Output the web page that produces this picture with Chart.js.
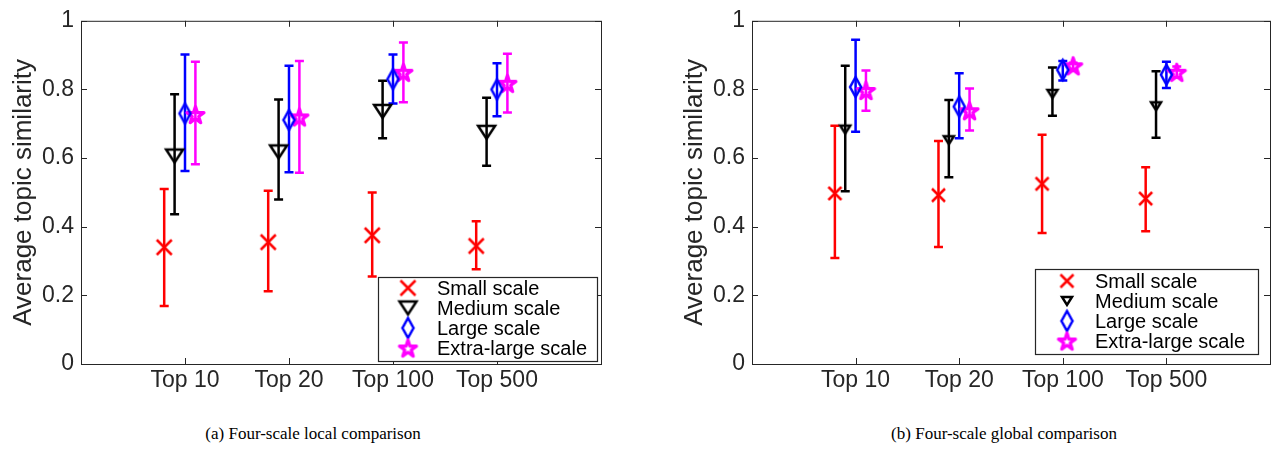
<!DOCTYPE html>
<html>
<head>
<meta charset="utf-8">
<script src="https://cdn.jsdelivr.net/npm/chart.js@4.4.0/dist/chart.umd.min.js"></script>
<style>
  body { margin: 0; background: #fff; width: 1277px; height: 449px; position: relative; overflow: hidden; }
  .wrap { position: absolute; top: 0; height: 400px; }
  #wrapA { left: 0; width: 640px; }
  #wrapB { left: 671px; width: 606px; }
  .cap { position: absolute; top: 424px; font-family: 'Liberation Serif', 'Times New Roman', serif; font-size: 17px; color: #000; transform: translateX(-50%); white-space: nowrap; }
</style>
</head>
<body>
<div class="wrap" id="wrapA"><canvas id="chartA" width="640" height="400"></canvas></div>
<div class="wrap" id="wrapB"><canvas id="chartB" width="606" height="400"></canvas></div>
<div class="cap" style="left:313px">(a) Four-scale local comparison</div>
<div class="cap" style="left:1004px">(b) Four-scale global comparison</div>

<script>
// data
const categories = ['Top 10', 'Top 20', 'Top 100', 'Top 500'];
const seriesNames = ['Small scale', 'Medium scale', 'Large scale', 'Extra-large scale'];
const yTicks = [0, 0.2, 0.4, 0.6, 0.8, 1];

// (a) local comparison: mean, lower end, upper end of the error bar
const localSmall = [0.34, 0.355, 0.375, 0.344];
const localSmallLo = [0.169, 0.212, 0.255, 0.276];
const localSmallHi = [0.51, 0.505, 0.5, 0.416];
const localMedium = [0.606, 0.618, 0.736, 0.675];
const localMediumLo = [0.436, 0.479, 0.658, 0.578];
const localMediumHi = [0.786, 0.771, 0.825, 0.776];
const localLarge = [0.73, 0.711, 0.83, 0.80];
const localLargeLo = [0.562, 0.559, 0.759, 0.722];
const localLargeHi = [0.902, 0.869, 0.902, 0.876];
const localXL = [0.727, 0.72, 0.85, 0.818];
const localXLLo = [0.582, 0.557, 0.763, 0.733];
const localXLHi = [0.881, 0.883, 0.937, 0.904];

// (b) global comparison
const globalSmall = [0.497, 0.492, 0.525, 0.482];
const globalSmallLo = [0.309, 0.341, 0.382, 0.387];
const globalSmallHi = [0.694, 0.65, 0.668, 0.573];
const globalMedium = [0.683, 0.652, 0.787, 0.751];
const globalMediumLo = [0.503, 0.544, 0.723, 0.659];
const globalMediumHi = [0.869, 0.769, 0.864, 0.853];
const globalLarge = [0.807, 0.75, 0.857, 0.843];
const globalLargeLo = [0.677, 0.658, 0.826, 0.804];
const globalLargeHi = [0.945, 0.847, 0.883, 0.881];
const globalXL = [0.797, 0.738, 0.869, 0.85];
const globalXLLo = [0.738, 0.68, 0.86, 0.835];
const globalXLHi = [0.855, 0.803, 0.878, 0.867];

// styling
const seriesColors = ['#ff0000', '#000000', '#0000ff', '#ff00ff'];
const seriesOffsets = [-0.2, -0.1, 0, 0.1];
const axisColor = '#262626';
Chart.defaults.font.family = "'Liberation Sans', Arial, Helvetica, sans-serif";

// marker glyphs (matlab-ish x, v, diamond, pentagram)
function markerCanvas(shape, w, h, color, lw) {
    const pad = Math.ceil(lw) + 2;
    const c = document.createElement('canvas');
    c.width = Math.ceil(w + 2 * pad);
    c.height = Math.ceil(h + 2 * pad);
    const g = c.getContext('2d');
    g.translate(c.width / 2, c.height / 2);
    g.strokeStyle = color;
    g.lineWidth = lw;
    g.lineJoin = shape === 'p' ? 'round' : 'miter';
    g.miterLimit = 3;
    g.beginPath();
    if (shape === 'x') {
        g.moveTo(-w / 2, -h / 2); g.lineTo(w / 2, h / 2);
        g.moveTo(w / 2, -h / 2); g.lineTo(-w / 2, h / 2);
    } else if (shape === 'v') {
        g.moveTo(-w / 2, -h / 2); g.lineTo(w / 2, -h / 2); g.lineTo(0, h / 2); g.closePath();
    } else if (shape === 'd') {
        g.moveTo(0, -h / 2); g.lineTo(w / 2, 0); g.lineTo(0, h / 2); g.lineTo(-w / 2, 0); g.closePath();
    } else if (shape === 'p') {
        const R = w / 2 / Math.sin(72 * Math.PI / 180);
        const r = R * 0.382;
        for (let k = 0; k < 10; k++) {
            const a = (-90 + 36 * k) * Math.PI / 180;
            const rr = k % 2 ? r : R;
            const px = rr * Math.cos(a), py = rr * Math.sin(a) + R * 0.1;
            if (k === 0) g.moveTo(px, py); else g.lineTo(px, py);
        }
        g.closePath();
    }
    g.stroke();
    return c;
}

const localMarkers = [
    markerCanvas('x', 15, 15, seriesColors[0], 2.5),
    markerCanvas('v', 17, 13, seriesColors[1], 2.5),
    markerCanvas('d', 11, 20, seriesColors[2], 2.5),
    markerCanvas('p', 17, 17, seriesColors[3], 3.2)
];
const globalMarkers = [
    markerCanvas('x', 13, 13, seriesColors[0], 2.5),
    markerCanvas('v', 10, 8, seriesColors[1], 2.5),
    markerCanvas('d', 11, 20, seriesColors[2], 2.5),
    markerCanvas('p', 17, 17, seriesColors[3], 3.2)
];

// error bars from errLo / errHi, drawn under the markers
const errorBars = {
    id: 'errorBars',
    beforeDatasetsDraw(chart) {
        const ctx = chart.ctx;
        const yScale = chart.scales.y;
        chart.data.datasets.forEach((ds, di) => {
            const meta = chart.getDatasetMeta(di);
            ctx.save();
            ctx.strokeStyle = ds.borderColor;
            ctx.lineWidth = 2.5;
            meta.data.forEach((pt, i) => {
                const x = pt.x;
                const yLo = yScale.getPixelForValue(ds.errLo[i]);
                const yHi = yScale.getPixelForValue(ds.errHi[i]);
                ctx.beginPath();
                ctx.moveTo(x, yLo); ctx.lineTo(x, yHi);
                ctx.moveTo(x - 4.5, yLo); ctx.lineTo(x + 4.5, yLo);
                ctx.moveTo(x - 4.5, yHi); ctx.lineTo(x + 4.5, yHi);
                ctx.stroke();
            });
            ctx.restore();
        });
    }
};

// box around the axes with inward ticks
const axesBox = {
    id: 'axesBox',
    afterDatasetsDraw(chart) {
        const { ctx, chartArea: a, scales } = chart;
        ctx.save();
        ctx.strokeStyle = axisColor;
        ctx.lineWidth = 1;
        ctx.strokeRect(a.left + 0.5, a.top + 0.5, a.right - a.left, a.bottom - a.top);
        ctx.beginPath();
        yTicks.forEach(v => {
            const y = Math.round(scales.y.getPixelForValue(v)) + 0.5;
            ctx.moveTo(a.left, y); ctx.lineTo(a.left + 6, y);
            ctx.moveTo(a.right, y); ctx.lineTo(a.right - 6, y);
        });
        categories.forEach((c, i) => {
            const x = Math.round(scales.x.getPixelForValue(i + 1)) + 0.5;
            ctx.moveTo(x, a.bottom); ctx.lineTo(x, a.bottom - 6);
            ctx.moveTo(x, a.top); ctx.lineTo(x, a.top + 6);
        });
        ctx.stroke();
        ctx.restore();
    }
};

// legend box in the lower right corner
const boxLegend = {
    id: 'boxLegend',
    afterDraw(chart, args, opts) {
        const { ctx, chartArea: a } = chart;
        const left = a.right - opts.right - opts.width;
        const top = a.bottom - opts.bottom - opts.height;
        ctx.save();
        ctx.fillStyle = '#fff';
        ctx.fillRect(left, top, opts.width, opts.height);
        ctx.strokeStyle = axisColor;
        ctx.lineWidth = 1.2;
        ctx.strokeRect(Math.round(left) + 0.5, Math.round(top) + 0.5, opts.width, opts.height);
        ctx.font = "20px 'Liberation Sans', Arial, sans-serif";
        ctx.fillStyle = '#000';
        ctx.textBaseline = 'middle';
        chart.data.datasets.forEach((ds, i) => {
            const y = top + opts.rowTop + i * opts.rowGap;
            const m = ds.pointStyle;
            ctx.drawImage(m, left + opts.markerX - m.width / 2, y - m.height / 2);
            ctx.fillText(ds.label, left + opts.textX, y + 1);
        });
        ctx.restore();
    }
};

function buildChart(canvasId, means, lows, highs, markers, padRight, legendOpts) {
    const datasets = seriesNames.map((name, s) => ({
        label: name,
        data: categories.map((c, i) => ({ x: i + 1 + seriesOffsets[s], y: means[s][i] })),
        errLo: lows[s],
        errHi: highs[s],
        pointStyle: markers[s],
        pointRadius: 6,
        borderColor: seriesColors[s],
        backgroundColor: seriesColors[s],
        showLine: false
    }));

    return new Chart(document.getElementById(canvasId), {
        type: 'scatter',
        data: { datasets: datasets },
        options: {
            responsive: false,
            animation: false,
            layout: { padding: { top: 15, right: padRight, left: 0, bottom: 0 } },
            plugins: {
                legend: { display: false },
                tooltip: { enabled: false },
                boxLegend: legendOpts
            },
            scales: {
                x: {
                    type: 'linear',
                    min: 0,
                    max: 5,
                    afterBuildTicks: scale => { scale.ticks = categories.map((c, i) => ({ value: i + 1 })); },
                    afterFit: scale => { scale.height = 36; },
                    ticks: {
                        callback: v => categories[v - 1] || '',
                        font: { size: 23 },
                        color: axisColor,
                        padding: 3,
                        maxRotation: 0,
                        autoSkip: false
                    },
                    grid: { display: false, drawTicks: false },
                    border: { display: false }
                },
                y: {
                    min: 0,
                    max: 1,
                    afterBuildTicks: scale => { scale.ticks = yTicks.map(v => ({ value: v })); },
                    afterFit: scale => { scale.width = 81; },
                    ticks: {
                        callback: v => String(+v.toFixed(1)),
                        font: { size: 23 },
                        color: axisColor,
                        padding: 7
                    },
                    grid: { display: false, drawTicks: false },
                    border: { display: false },
                    title: {
                        display: true,
                        text: 'Average topic similarity',
                        font: { size: 26 },
                        color: axisColor,
                        padding: { top: 8, bottom: 0 }
                    }
                }
            }
        },
        plugins: [errorBars, axesBox, boxLegend]
    });
}

buildChart('chartA',
    [localSmall, localMedium, localLarge, localXL],
    [localSmallLo, localMediumLo, localLargeLo, localXLLo],
    [localSmallHi, localMediumHi, localLargeHi, localXLHi],
    localMarkers, 39,
    { right: 4, bottom: 3, width: 219, height: 84, markerX: 30, textX: 59, rowTop: 11, rowGap: 20 });

buildChart('chartB',
    [globalSmall, globalMedium, globalLarge, globalXL],
    [globalSmallLo, globalMediumLo, globalLargeLo, globalXLLo],
    [globalSmallHi, globalMediumHi, globalLargeHi, globalXLHi],
    globalMarkers, 4,
    { right: 12, bottom: 10, width: 223, height: 85, markerX: 32, textX: 60, rowTop: 12, rowGap: 20 });
</script>
</body>
</html>
